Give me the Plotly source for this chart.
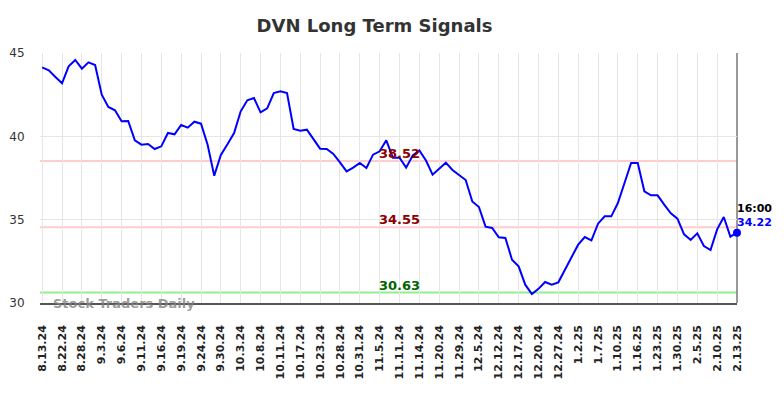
import plotly.graph_objects as go

title_text = "DVN Long Term Signals"

prices = [
    44.14, 43.96, 43.56, 43.18, 44.20, 44.58, 44.06, 44.44, 44.28, 42.50,
    41.76, 41.56, 40.90, 40.92, 39.76, 39.50, 39.54, 39.24, 39.40, 40.20,
    40.12, 40.68, 40.52, 40.88, 40.76, 39.50, 37.64, 38.88, 39.52, 40.20,
    41.50, 42.16, 42.30, 41.44, 41.68, 42.60, 42.70, 42.60, 40.44, 40.34,
    40.40, 39.84, 39.26, 39.24, 38.94, 38.44, 37.90, 38.12, 38.40, 38.10,
    38.90, 39.10, 39.76, 38.72, 38.72, 38.12, 38.85, 39.15, 38.55, 37.70,
    38.04, 38.42, 37.98, 37.70, 37.38, 36.09, 35.76, 34.58, 34.50, 33.94,
    33.90, 32.60, 32.20, 31.10, 30.54, 30.85, 31.26, 31.10, 31.24, 32.00,
    32.80, 33.50, 33.96, 33.76, 34.76, 35.20, 35.20, 36.00, 37.20, 38.40,
    38.40, 36.70, 36.46, 36.46, 35.90, 35.38, 35.06, 34.12, 33.78, 34.18,
    33.42, 33.18, 34.42, 35.16, 33.98, 34.22,
]

tick_labels = [
    "8.13.24", "8.22.24", "8.28.24", "9.3.24", "9.6.24", "9.11.24", "9.16.24",
    "9.19.24", "9.24.24", "9.30.24", "10.3.24", "10.8.24", "10.11.24",
    "10.17.24", "10.23.24", "10.28.24", "10.31.24", "11.5.24", "11.11.24",
    "11.14.24", "11.20.24", "11.29.24", "12.5.24", "12.12.24", "12.17.24",
    "12.20.24", "12.27.24", "1.2.25", "1.7.25", "1.10.25", "1.16.25",
    "1.23.25", "1.30.25", "2.5.25", "2.10.25", "2.13.25",
]
tick_step = 3

resistance_levels = [38.52, 34.55]
support_levels = [30.63]
last_time = "16:00"
y_ticks = [30, 35, 40, 45]
watermark = "Stock Traders Daily"

x = list(range(len(prices)))
tick_vals = [i * tick_step for i in range(len(tick_labels))]
last_i = len(prices) - 1

fig = go.Figure()
fig.add_trace(go.Scatter(x=x, y=prices, mode="lines",
                         line=dict(color="#0000ff", width=2), hoverinfo="skip"))
fig.add_trace(go.Scatter(x=[x[-1]], y=[prices[-1]], mode="markers", cliponaxis=False,
                         marker=dict(color="#0000ff", size=8, line=dict(width=0)),
                         hoverinfo="skip"))

shapes = []
annotations = []
label_x = 54
for lv in resistance_levels:
    shapes.append(dict(type="line", xref="paper", x0=0, x1=1, yref="y", y0=lv, y1=lv,
                       line=dict(color="#ffcccc", width=2), layer="below"))
    annotations.append(dict(x=label_x, y=lv, xref="x", yref="y", text=f"<b>{lv:.2f}</b>",
                            showarrow=False, xanchor="center", yanchor="bottom", yshift=-2,
                            font=dict(family="DejaVu Sans", size=13, color="#8b0000")))
for lv in support_levels:
    shapes.append(dict(type="line", xref="paper", x0=0, x1=1, yref="y", y0=lv, y1=lv,
                       line=dict(color="#90ee90", width=2), layer="below"))
    annotations.append(dict(x=label_x, y=lv, xref="x", yref="y", text=f"<b>{lv:.2f}</b>",
                            showarrow=False, xanchor="center", yanchor="bottom", yshift=-2,
                            font=dict(family="DejaVu Sans", size=13, color="#006400")))

# right border line (drawn beneath the data so the end marker sits on top)
shapes.append(dict(type="line", xref="paper", x0=1, x1=1, yref="paper", y0=0, y1=1,
                   line=dict(color="#777777", width=1.5), layer="below"))

annotations.append(dict(x=last_i, y=prices[-1], xref="x", yref="y", text=f"<b>{last_time}</b>",
                        showarrow=False, xanchor="left", yanchor="middle", yshift=24, xshift=-2,
                        font=dict(family="DejaVu Sans", size=11, color="#000000")))
annotations.append(dict(x=last_i, y=prices[-1], xref="x", yref="y", text=f"<b>{prices[-1]:.2f}</b>",
                        showarrow=False, xanchor="left", yanchor="middle", yshift=10, xshift=-2,
                        font=dict(family="DejaVu Sans", size=11, color="#0000ff")))
annotations.append(dict(x=0.016, y=30, xref="paper", yref="y", text=f"<b>{watermark}</b>",
                        showarrow=False, xanchor="left", yanchor="middle",
                        font=dict(family="DejaVu Sans", size=13, color="rgba(130,130,130,0.8)")))

# page body adds an 8px offset; compensate so the plot lands where the reference has it
fig.update_layout(
    width=776, height=390,
    margin=dict(l=32, r=47, t=45, b=95),
    paper_bgcolor="white", plot_bgcolor="white",
    showlegend=False,
    title=dict(text=f"<b>{title_text}</b>", x=0.4723, xanchor="center", y=0.954, yanchor="middle",
               font=dict(family="DejaVu Sans", size=18, color="#333333")),
    shapes=shapes,
    annotations=annotations,
)
fig.update_xaxes(
    range=[-0.33, last_i], tickmode="array", tickvals=tick_vals, ticktext=tick_labels,
    tickangle=-90, showgrid=True, gridcolor="#e6e6e6", gridwidth=1,
    showline=True, linecolor="#555555", linewidth=1.5,
    ticks="outside", ticklen=16, tickcolor="rgba(0,0,0,0)",
    tickfont=dict(family="DejaVu Sans", size=11, color="#222222", weight="bold"),
    zeroline=False, automargin=False,
)
fig.update_yaxes(
    range=[30, 45], tickmode="array", tickvals=y_ticks,
    showgrid=True, gridcolor="#e6e6e6", gridwidth=1, showline=False,
    ticks="outside", ticklen=12, tickcolor="rgba(0,0,0,0)",
    tickfont=dict(family="DejaVu Sans", size=12, color="#333333"),
    zeroline=False, automargin=False,
)

fig.write_html("out.html")
